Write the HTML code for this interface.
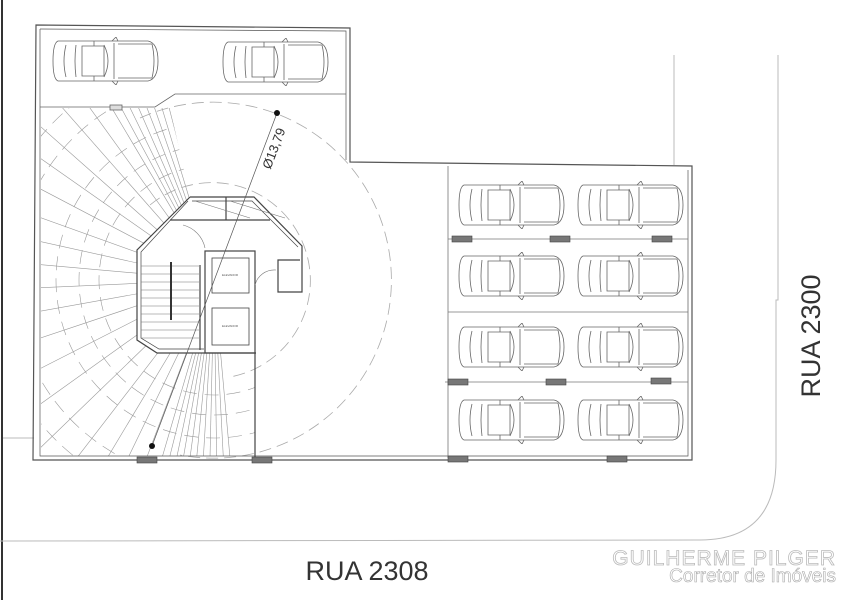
<!DOCTYPE html>
<html><head><meta charset="utf-8"><style>
html,body{margin:0;padding:0;background:#fff;width:856px;height:600px;overflow:hidden;}
svg{display:block;}
</style></head><body>
<svg width="856" height="600" viewBox="0 0 856 600" xmlns="http://www.w3.org/2000/svg">
<defs>
<symbol id="car" viewBox="0 0 108 48" width="108" height="48">
<g fill="none" stroke="#666" stroke-width="0.8">
<path d="M6,4 L96,4 Q106,6 106,24 Q106,42 96,44 L6,44 Q1,42 1,24 Q1,6 6,4 Z"/>
<path d="M14,8 Q10,24 14,40"/>
<path d="M24,8 Q22,24 24,40"/>
<path d="M30,9 L52,9 L52,39 L30,39 Z"/>
<path d="M52,8 Q60,24 52,40"/>
<path d="M62,6 L62,42"/>
<path d="M66,7 L100,7 Q104,24 100,41 L66,41"/>
<path d="M60,4 L64,0 L66,4 M60,44 L64,48 L66,44"/>
<path d="M42,4 L42,9 M42,39 L42,44"/>
</g>
</symbol>
<clipPath id="ramp">
<path d="M41,108 L170,108 L190,197 L137,250 L137,340 L157,353 L255,353 L255,456 L41,456 Z"/>
</clipPath>
</defs>

<line x1="2" y1="0" x2="2" y2="600" stroke="#333" stroke-width="2"/>

<g fill="none" stroke="#bbb" stroke-width="1">
<line x1="674" y1="55" x2="674" y2="165"/>
<path d="M778,55 L778,300 L776,300 L776,460 Q776,540 700,540 L0,541"/>
<line x1="3" y1="438" x2="34" y2="438"/>
</g>

<g clip-path="url(#ramp)" stroke="#999" stroke-width="0.6" fill="none">
<line x1="214" y1="280" x2="126" y2="-120"/>
<line x1="214" y1="280" x2="111" y2="-115"/>
<line x1="214" y1="280" x2="96" y2="-110"/>
<line x1="214" y1="280" x2="81" y2="-105"/>
<line x1="214" y1="280" x2="66" y2="-100"/>
<line x1="214" y1="280" x2="51" y2="-92"/>
<line x1="214" y1="280" x2="36" y2="-85"/>
<line x1="214" y1="280" x2="21" y2="-78"/>
<line x1="214" y1="280" x2="6" y2="-70"/>
<line x1="214" y1="280" x2="-24" y2="-50"/>
<line x1="214" y1="280" x2="-50" y2="-20"/>
<line x1="214" y1="280" x2="-80" y2="20"/>
<line x1="214" y1="280" x2="-100" y2="60"/>
<line x1="214" y1="280" x2="-110" y2="110"/>
<line x1="214" y1="280" x2="-120" y2="160"/>
<line x1="214" y1="280" x2="-125" y2="205"/>
<line x1="214" y1="280" x2="-125" y2="250"/>
<line x1="214" y1="280" x2="-125" y2="295"/>
<line x1="214" y1="280" x2="-120" y2="340"/>
<line x1="214" y1="280" x2="-115" y2="390"/>
<line x1="214" y1="280" x2="-100" y2="440"/>
<line x1="214" y1="280" x2="-80" y2="490"/>
<line x1="214" y1="280" x2="-55" y2="540"/>
<line x1="214" y1="280" x2="-25" y2="590"/>
<line x1="214" y1="280" x2="10" y2="620"/>
<line x1="214" y1="280" x2="40" y2="640"/>
<line x1="214" y1="280" x2="70" y2="660"/>
<line x1="214" y1="280" x2="100" y2="670"/>
<line x1="214" y1="280" x2="115" y2="675"/>
<line x1="214" y1="280" x2="130" y2="680"/>
<line x1="214" y1="280" x2="145" y2="680"/>
<line x1="214" y1="280" x2="160" y2="680"/>
<line x1="214" y1="280" x2="175" y2="680"/>
<line x1="214" y1="280" x2="190" y2="680"/>
<line x1="214" y1="280" x2="205" y2="680"/>
<line x1="214" y1="280" x2="220" y2="680"/>
<line x1="214" y1="280" x2="235" y2="680"/>
<line x1="214" y1="280" x2="250" y2="680"/>
<circle cx="214" cy="280" r="115" stroke-dasharray="14 8"/>
<circle cx="214" cy="280" r="135" stroke-dasharray="14 8"/>
<circle cx="214" cy="280" r="158" stroke-dasharray="14 8"/>
<circle cx="214" cy="280" r="200" stroke-dasharray="14 8"/>
<circle cx="214" cy="280" r="225" stroke-dasharray="14 8"/>
</g>

<g fill="none" stroke="#aaa" stroke-width="0.8" stroke-dasharray="12 6">
<path d="M140,118 A178,178 0 1 1 180,455"/>
<path d="M150,205 A98,98 0 1 1 230,377"/>
</g>

<g fill="none" stroke="#555" stroke-width="1.2">
<path d="M36,25 L350,28 L350,162 L692,166 L692,460 L33,460 Z"/>
<path d="M40,29 L346,31 L346,160" stroke-width="0.7"/>
<path d="M40,29 L40,456 L688,456 L688,170" stroke-width="0.7"/>
</g>
<g stroke="#666" stroke-width="0.8" fill="none">
<path d="M40,107 L155,107 L175,94 L346,94"/>
<rect x="110" y="105" width="12" height="5" fill="#ddd"/>
</g>

<g stroke="#777" stroke-width="0.8">
<line x1="448" y1="166" x2="448" y2="458"/>
<line x1="448" y1="239" x2="688" y2="239"/>
<line x1="448" y1="312" x2="688" y2="312"/>
<line x1="445" y1="382" x2="688" y2="382"/>
</g>
<g fill="#777" stroke="#444" stroke-width="0.6">
<rect x="452" y="236" width="20" height="6"/>
<rect x="550" y="236" width="20" height="6"/>
<rect x="652" y="236" width="20" height="6"/>
<rect x="448" y="379" width="20" height="6"/>
<rect x="546" y="379" width="20" height="6"/>
<rect x="651" y="378" width="20" height="6"/>
<rect x="137" y="457" width="20" height="6"/>
<rect x="252" y="457" width="20" height="6"/>
<rect x="448" y="456" width="20" height="6"/>
<rect x="607" y="456" width="20" height="6"/>
</g>

<use href="#car" x="52" y="37"/>
<use href="#car" x="222" y="38"/>
<use href="#car" x="458" y="181"/>
<use href="#car" x="577" y="181"/>
<use href="#car" x="458" y="252"/>
<use href="#car" x="577" y="252"/>
<use href="#car" x="458" y="323"/>
<use href="#car" x="577" y="323"/>
<use href="#car" x="458" y="396"/>
<use href="#car" x="577" y="396"/>

<g fill="none" stroke="#444" stroke-width="1.2">
<path d="M190,197 L254,197 L302,246 L302,292 L278,292 L278,260 L300,260"/>
<path d="M190,197 L137,250 L137,340 L157,353 L256,353"/>
<path d="M192,201 L252,201 L298,247 M188,201 L141,252 L141,338 L159,349 L204,349" stroke-width="0.7"/>
<line x1="170" y1="220" x2="270" y2="220"/>
<line x1="226" y1="197" x2="226" y2="220"/>
<rect x="205" y="251" width="50" height="102"/>
<rect x="212" y="258" width="37" height="35" stroke-width="0.8"/>
<rect x="212" y="308" width="37" height="37" stroke-width="0.8"/>
<line x1="255" y1="353" x2="255" y2="457"/>
<line x1="200" y1="265" x2="200" y2="350"/>
</g>
<g stroke="#777" stroke-width="0.6">
<line x1="141" y1="266" x2="199" y2="266"/>
<line x1="141" y1="274" x2="199" y2="274"/>
<line x1="141" y1="282" x2="199" y2="282"/>
<line x1="141" y1="290" x2="199" y2="290"/>
<line x1="141" y1="298" x2="199" y2="298"/>
<line x1="141" y1="306" x2="199" y2="306"/>
<line x1="141" y1="314" x2="199" y2="314"/>
<line x1="141" y1="322" x2="199" y2="322"/>
<line x1="141" y1="330" x2="199" y2="330"/>
<line x1="141" y1="338" x2="199" y2="338"/>
<line x1="171" y1="262" x2="171" y2="320" stroke="#333" stroke-width="2"/>
<line x1="195" y1="201" x2="250" y2="218"/>
<line x1="230" y1="201" x2="285" y2="218"/>
<path d="M183,225 A30,30 0 0 1 205,248" fill="none"/>
<path d="M255,285 A20,20 0 0 1 276,270" fill="none"/>
</g>
<text x="230" y="276" font-family="Liberation Sans, sans-serif" font-size="3" text-anchor="middle" fill="#555">ELEVADOR</text>
<text x="230" y="327" font-family="Liberation Sans, sans-serif" font-size="3" text-anchor="middle" fill="#555">ELEVADOR</text>

<line x1="277" y1="113" x2="152" y2="446" stroke="#555" stroke-width="0.7"/>
<circle cx="277" cy="113" r="3" fill="#111"/>
<circle cx="152" cy="446" r="3" fill="#111"/>
<text x="0" y="0" transform="translate(278,150) rotate(-69)" font-family="Liberation Sans, sans-serif" font-size="13" text-anchor="middle" fill="#333">Ø13,79</text>

<text x="367" y="580" font-family="Liberation Sans, sans-serif" font-size="27" text-anchor="middle" fill="#333">RUA 2308</text>
<text x="0" y="0" transform="translate(820,336) rotate(-90)" font-family="Liberation Sans, sans-serif" font-size="27" text-anchor="middle" fill="#333">RUA 2300</text>

<text x="836" y="565" font-family="Liberation Sans, sans-serif" font-size="21" text-anchor="end" fill="#fff" stroke="#bbb" stroke-width="0.8" letter-spacing="1">GUILHERME PILGER</text>
<text x="836" y="582" font-family="Liberation Sans, sans-serif" font-size="19" text-anchor="end" fill="#fff" stroke="#aaa" stroke-width="0.6">Corretor de Imóveis</text>
</svg>
</body></html>
